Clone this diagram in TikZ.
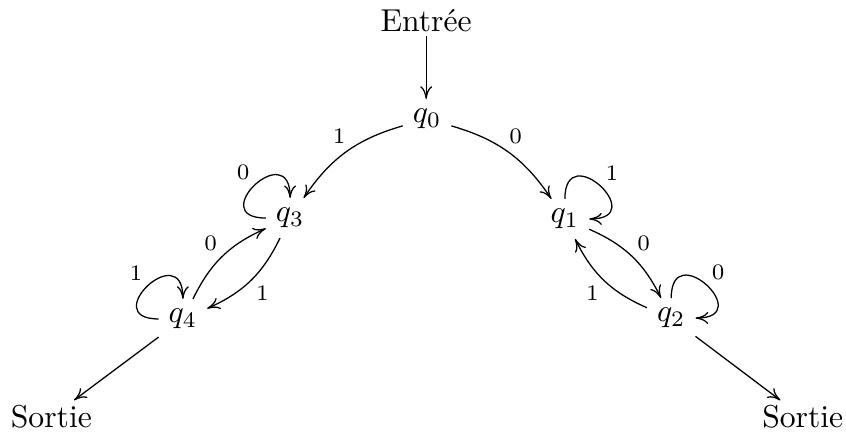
\documentclass[tikz,border=0pt]{standalone}
\usepackage{amsmath,amssymb}
\usepackage{tikz}
\usetikzlibrary{arrows.meta}

\begin{document}
\begin{tikzpicture}[>={To[length=4pt,width=3.8pt]}]
        \useasboundingbox (0,0) rectangle (9.39,-4.85);
        \tikzset{StateStyle/.style={inner sep=3pt},
        LabelStyle/.style={font=\scriptsize, inner sep=1.5pt}}
        \node[inner sep=1pt] (E) at (4.73,-0.23) {Entrée};
        \node[StateStyle] (q0) at (4.74,-1.32) {$q_0$};
        \node[StateStyle] (q1) at (6.27,-2.43) {$q_1$};
        \node[StateStyle] (q2) at (7.45,-3.53) {$q_2$};
        \node[StateStyle] (q3) at (3.22,-2.42) {$q_3$};
        \node[StateStyle] (q4) at (2.03,-3.54) {$q_4$};
        \node[inner sep=1.5pt] (S1) at (0.57,-4.63) {Sortie};
        \node[inner sep=1.5pt] (S2) at (8.91,-4.63) {Sortie};
        \tikzset{EdgeStyle/.style={->}}
        \draw[EdgeStyle] (E) -- (E |- q0.north);
        \draw[EdgeStyle] (q4) -- (S1);
        \draw[EdgeStyle] (q2) -- (S2);
        \path[EdgeStyle]
        (q0) edge[bend right=20] node[LabelStyle, pos=0.45, above left] {1} (q3)
        (q0) edge[bend left=20] node[LabelStyle, pos=0.45, above right] {0} (q1)
        (q4) edge[bend left=20] node[LabelStyle, pos=0.5, above left] {0} (q3)
        (q3) edge[bend left=20] node[LabelStyle, pos=0.5, below right] {1} (q4)
        (q1) edge[bend left=20] node[LabelStyle, pos=0.5, above right] {0} (q2)
        (q2) edge[bend left=20] node[LabelStyle, pos=0.5, below left] {1} (q1);
        % boucles
        \tikzset{EdgeStyle/.style={->, looseness=5}}
        \path[EdgeStyle]
        (q3) edge[out=180, in=90] node[LabelStyle, above left] {0} (q3)
        (q4) edge[out=180, in=90] node[LabelStyle, above left] {1} (q4)
        (q1) edge[out=90, in=0] node[LabelStyle, above right] {1} (q1)
        (q2) edge[out=90, in=0] node[LabelStyle, above right] {0} (q2);
    \end{tikzpicture}
\end{document}
